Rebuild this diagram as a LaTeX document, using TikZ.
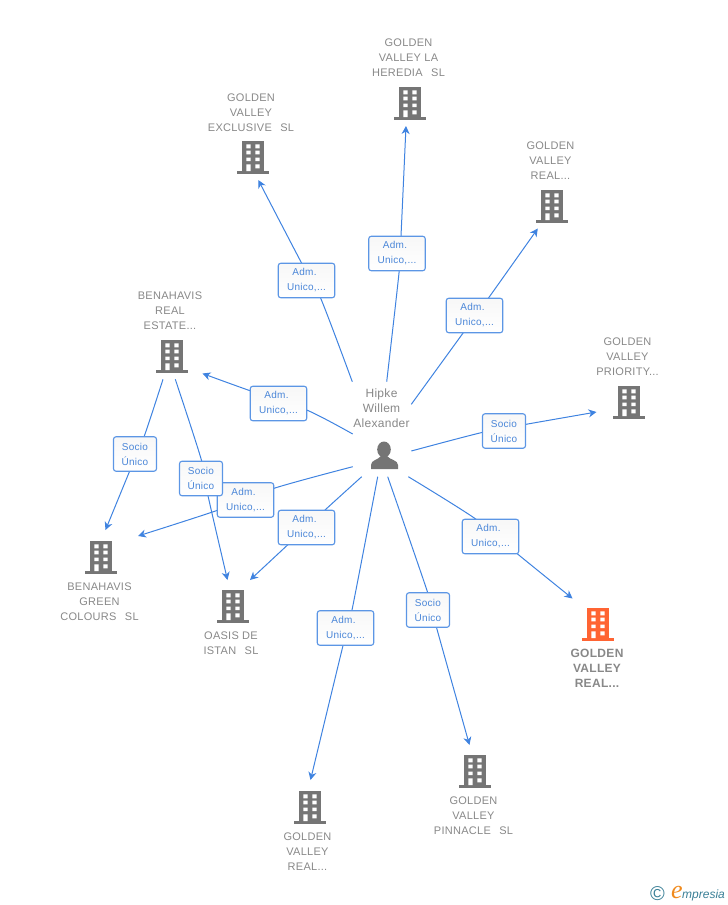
\documentclass[tikz,border=0pt]{standalone}
\usepackage{fontspec}
\setmainfont[LetterSpace=2.5]{Liberation Sans}
\newfontfamily\logofont{Liberation Serif}
\newfontfamily\logosans{Liberation Sans}
\usetikzlibrary{arrows.meta,calc}
\definecolor{linkblue}{HTML}{3F83E0}
\definecolor{boxtext}{HTML}{4A86D8}
\definecolor{labgray}{HTML}{888888}
\definecolor{icongray}{HTML}{757575}
\definecolor{iconorange}{HTML}{FF6433}
\definecolor{logoteal}{HTML}{3A7F96}
\definecolor{logoorange}{HTML}{F08A1D}
\tikzset{
  x=1pt,y=-1pt,
  conn/.style={draw=linkblue,line width=1pt,-{Stealth[length=8pt,width=8pt,inset=2.5pt]}},
  tag/.style={draw=linkblue!85,line width=1.1pt,rounded corners=2.5pt,top color=black!3,bottom color=white,text=boxtext,
     font=\fontsize{10}{15}\selectfont,align=center,inner sep=0pt,minimum height=34.5pt},
  adm/.style={tag,minimum width=56.5pt},
  soc/.style={tag,minimum width=43pt},
  lab/.style={text=labgray,font=\fontsize{11}{15}\selectfont,align=center,inner sep=0pt},
  hot/.style={text=labgray,font=\bfseries\fontsize{12}{15}\selectfont,align=center,inner sep=0pt},
  pics/bldg/.style={code={
    \fill[#1] (-11,-16.3) rectangle (11,14);
    \fill[#1] (-16,14) rectangle (16,17.3);
    \fill[white] (-6.6,-12.7) rectangle (-2.3,-8.7) (2.4,-12.7) rectangle (6.7,-8.7)
                 (-6.6,-6.3) rectangle (-2.3,-2.7) (2.4,-6.3) rectangle (6.7,-2.7)
                 (-6.6,0.7) rectangle (-2.3,4) (2.4,0.7) rectangle (6.7,4)
                 (-6.6,7.3) rectangle (-2.3,14) (2.4,7.3) rectangle (6.7,11.3);
  }},
}
\newcommand{\admtext}{Adm.\kern4pt\\Unico,...}
\newcommand{\soctext}{Socio\\Único}
\begin{document}
\begin{tikzpicture}
\useasboundingbox (0,0) rectangle (728,905);

% connector starts
\coordinate (h1) at (352.3,381.7);
\coordinate (h2) at (386.7,381.7);
\coordinate (h3) at (411.3,404.3);
\coordinate (h4) at (411.3,451);
\coordinate (h5) at (408.3,476.7);
\coordinate (h6) at (387.7,476.7);
\coordinate (h7) at (377.7,476.7);
\coordinate (h8) at (361.7,476.7);
\coordinate (h9) at (352.7,466.7);
\coordinate (h10) at (352.7,434);
\coordinate (h11) at (163,379.3);
\coordinate (h12) at (175.3,379.3);
% where each connector enters and leaves its tag
\coordinate (p1) at (320.3,297.3);  \coordinate (q1) at (301.7,263.3);
\coordinate (p2) at (399.3,270);    \coordinate (q2) at (401,236);
\coordinate (p3) at (463.3,332.7);  \coordinate (q3) at (488.3,298.3);
\coordinate (p4) at (482.7,432.3);  \coordinate (q4) at (526,424.3);
\coordinate (p5) at (475.7,519);    \coordinate (q5) at (516.7,553.3);
\coordinate (p6) at (427.7,592.7);  \coordinate (q6) at (436.3,626.7);
\coordinate (p7) at (352,610);      \coordinate (q7) at (343.3,644.3);
\coordinate (p8) at (325,510);      \coordinate (q8) at (288.3,544.3);
\coordinate (p9) at (274,488.3);    \coordinate (q9) at (218.3,510);
\coordinate (p10) at (306.7,410);   \coordinate (q10) at (250,390.7);
\coordinate (p11) at (144.3,436);   \coordinate (q11) at (129.7,471);
\coordinate (p12) at (201.7,461);   \coordinate (q12) at (208,495.7);
% connector ends
\coordinate (e1) at (258.3,180);
\coordinate (e2) at (406,126);
\coordinate (e3) at (537.8,228.5);
\coordinate (e4) at (596.5,412);
\coordinate (e5) at (572.5,598.5);
\coordinate (e6) at (469.5,745);
\coordinate (e7) at (310.5,780);
\coordinate (e8) at (250,580);
\coordinate (e9) at (138,536);
\coordinate (e10) at (202.5,373.5);
\coordinate (e11) at (105.5,530);
\coordinate (e12) at (227.5,580);

\foreach \i in {1,...,12}{
  \draw[conn] plot[smooth,tension=0.5] coordinates {(h\i) (p\i) (q\i) (e\i)};
}

\node[adm] (a1) at (306.5,280.5) {\admtext};
\node[adm] (a2) at (397,253.5) {\admtext};
\node[adm] (a3) at (474.5,315.5) {\admtext};
\node[soc] (a4) at (504,431) {\soctext};
\node[adm] (a5) at (490.5,536.5) {\admtext};
\node[soc] (a6) at (428,610) {\soctext};
\node[adm] (a7) at (345.5,628) {\admtext};
\node[adm] (a8) at (306.5,527.5) {\admtext};
\node[adm] (a9) at (245.5,500) {\admtext};
\node[adm] (a10) at (278.5,403.5) {\admtext};
\node[soc] (a11) at (135,454) {\soctext};
\node[soc] (a12) at (201,478.5) {\soctext};

% buildings
\pic at (410,103) {bldg=icongray};
\pic at (253,157) {bldg=icongray};
\pic at (552,206) {bldg=icongray};
\pic at (629,402) {bldg=icongray};
\pic at (172,356) {bldg=icongray};
\pic at (101,557) {bldg=icongray};
\pic at (233,606) {bldg=icongray};
\pic at (598,624) {bldg=iconorange};
\pic at (475,771) {bldg=icongray};
\pic at (310,807) {bldg=icongray};

% labels
\node[lab] (n1) at (408.5,57.5) {GOLDEN\\VALLEY LA\\HEREDIA\ \ \,SL};
\node[lab] (n2) at (251,113) {GOLDEN\\VALLEY\\EXCLUSIVE\ \ \,SL};
\node[lab] (n3) at (550.5,160.5) {GOLDEN\\VALLEY\\REAL...};
\node[lab] (n4) at (627.5,356.5) {GOLDEN\\VALLEY\\PRIORITY...};
\node[lab] (n5) at (170,310.5) {BENAHAVIS\\REAL\\ESTATE...};
\node[lab] (n6) at (99.5,601.5) {BENAHAVIS\\GREEN\\COLOURS\ \ \,SL};
\node[lab] (n7) at (231,643) {OASIS DE\\ISTAN\ \ \,SL};
\node[hot] (n8) at (597,668) {GOLDEN\\VALLEY\\REAL...};
\node[lab] (n9) at (473.5,815.5) {GOLDEN\\VALLEY\\PINNACLE\ \ \,SL};
\node[lab] (n10) at (307.5,851.5) {GOLDEN\\VALLEY\\REAL...};
\node[lab,font=\fontsize{12}{15}\selectfont] (hub) at (381.5,408) {Hipke\\Willem\\Alexander};

% person
\fill[icongray] (384,449.5) ellipse (6.8 and 8);
\fill[icongray] (371,469) -- (371,465) .. controls (371,460) and (378,460) .. (381,456)
   -- (387,456) .. controls (390,460) and (398,460) .. (398,465) -- (398,469) -- cycle;

% logo
\node[inner sep=0pt,text=logoteal,font=\logosans\fontsize{20}{20}\selectfont] (c) at (657.5,893.5) {©};
\node[inner sep=0pt,text=logoorange,font=\logofont\itshape\fontsize{26}{26}\selectfont] (le) at (677,892) {e};
\node[inner sep=0pt,anchor=west,text=logoteal,font=\logosans\itshape\fontsize{12}{12}\selectfont] (lm) at (682,895) {mpresia};
\end{tikzpicture}
\end{document}
